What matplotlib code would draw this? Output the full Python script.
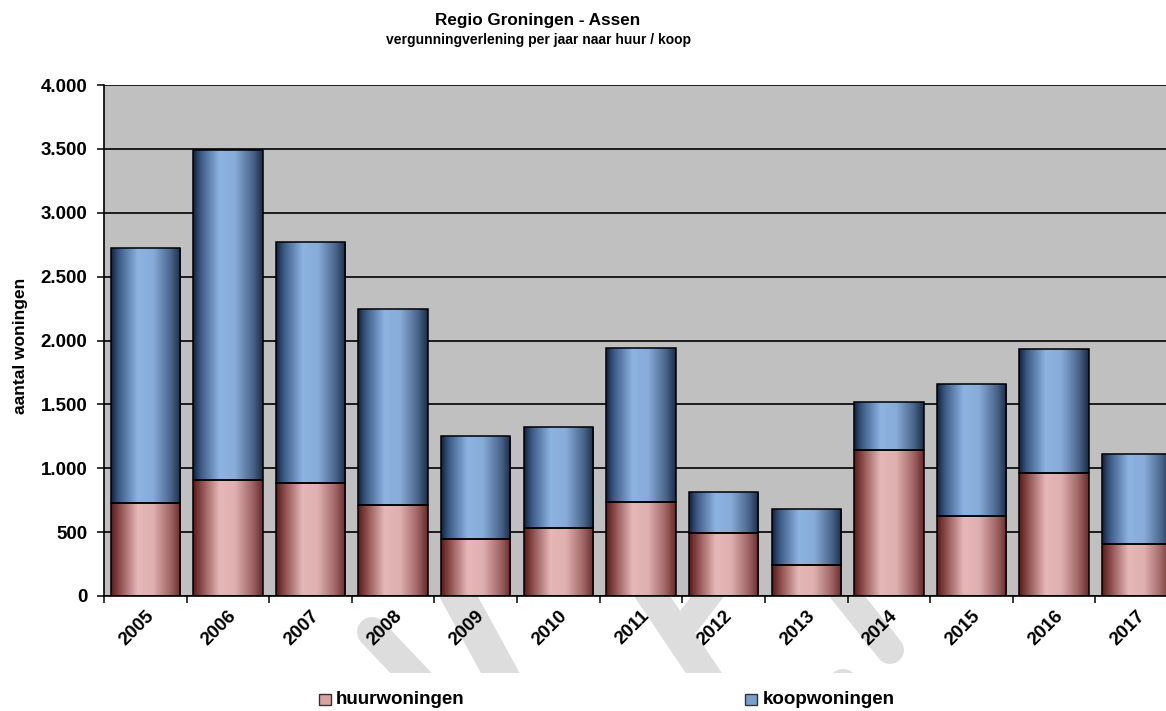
import numpy as np
import matplotlib
matplotlib.use('Agg')
import matplotlib.pyplot as plt
from matplotlib import font_manager
from matplotlib.colors import LinearSegmentedColormap
from matplotlib.lines import Line2D
from matplotlib.patches import Rectangle
from matplotlib.ticker import FuncFormatter, FixedLocator

# data
years = ['2005', '2006', '2007', '2008', '2009', '2010', '2011',
         '2012', '2013', '2014', '2015', '2016', '2017']
huur = [730, 906, 887, 714, 449, 536, 733, 497, 244, 1143, 625, 966, 410]
koop = [1992, 2584, 1884, 1530, 801, 785, 1209, 315, 440, 378, 1034, 968, 701]
series_names = ['huurwoningen', 'koopwoningen']

W, H = 1166, 711
installed = {f.name for f in font_manager.fontManager.ttflist}
narrow = 'Liberation Sans Narrow' if 'Liberation Sans Narrow' in installed else None
plt.rcParams['font.family'] = ['Liberation Sans', 'DejaVu Sans']

pink_cmap = LinearSegmentedColormap.from_list('pink', [
    (0.0, '#561b1b'), (0.1, '#844242'), (0.38, '#e6b7b7'),
    (0.6, '#e0b0b0'), (0.85, '#a06666'), (1.0, '#672a2a')])
blue_cmap = LinearSegmentedColormap.from_list('blue', [
    (0.0, '#13203a'), (0.1, '#385580'), (0.38, '#8db3e2'),
    (0.6, '#88acd8'), (0.85, '#4c678e'), (1.0, '#1c2c48')])

fig = plt.figure(figsize=(W / 100, H / 100), dpi=100)

# faint watermark strokes below the plot area
clip = Rectangle((0, 38 / H), 1, 76 / H, transform=fig.transFigure,
                 facecolor='none', edgecolor='none')
fig.add_artist(clip)
strokes = [((372, 632), (432, 695), 30), ((455, 590), (515, 700), 34),
           ((648, 590), (722, 700), 30), ((714, 588), (688, 622), 26),
           ((842, 590), (890, 650), 28), ((843, 684), (850, 700), 30)]
for (x0, y0), (x1, y1), lw in strokes:
    ln = Line2D([x0 / W, x1 / W], [1 - y0 / H, 1 - y1 / H],
                transform=fig.transFigure, color='#dddddd',
                lw=lw * 0.72, solid_capstyle='round', zorder=0)
    ln.set_clip_path(clip)
    fig.add_artist(ln)

ax = fig.add_axes([104 / W, 115 / H, 1074 / W, 511 / H])
ax.set_facecolor('#c0c0c0')

x = np.arange(len(years))
width = 0.84
grad = np.linspace(0, 1, 256).reshape(1, -1)


def gradient_bars(bars, cmap):
    for b in bars:
        bx, by = b.get_x(), b.get_y()
        bw, bh = b.get_width(), b.get_height()
        im = ax.imshow(grad, extent=[bx, bx + bw, by, by + bh], cmap=cmap,
                       aspect='auto', interpolation='bicubic', zorder=2)
        im.set_clip_path(b)


bars1 = ax.bar(x, huur, width, facecolor='none', edgecolor='black', lw=1.1, zorder=3)
bars2 = ax.bar(x, koop, width, bottom=huur, facecolor='none', edgecolor='black',
               lw=1.1, zorder=3)
gradient_bars(bars1, pink_cmap)
gradient_bars(bars2, blue_cmap)

ax.set_xlim(-0.5, len(years) - 0.5)
ax.set_ylim(0, 4000)
ax.set_yticks(np.arange(0, 4001, 500))
ax.yaxis.set_major_formatter(FuncFormatter(lambda v, p: f'{v:,.0f}'.replace(',', '.')))
ax.grid(axis='y', color='black', lw=1.2, zorder=1)
ax.set_axisbelow(True)

# ticks between categories, labels at the centres
ax.xaxis.set_major_locator(FixedLocator(np.arange(-0.5, len(years), 1.0)))
ax.xaxis.set_major_formatter(FuncFormatter(lambda v, p: ''))
ax.xaxis.set_minor_locator(FixedLocator(x))
ax.set_xticklabels(years, minor=True)
ax.tick_params(axis='x', which='major', length=5, width=1.1, direction='out')
ax.tick_params(axis='x', which='minor', length=0, pad=8)
ax.tick_params(axis='y', length=5, width=1.1, direction='out', pad=7)
for lab in ax.get_xticklabels(minor=True):
    lab.set_rotation(45)
    lab.set_ha('right')
    lab.set_va('top')
    lab.set_rotation_mode('anchor')
    lab.set_fontsize(13.5)
    lab.set_fontweight('bold')
for lab in ax.get_yticklabels():
    lab.set_fontsize(13.5)
    lab.set_fontweight('bold')

for s in ['top', 'right']:
    ax.spines[s].set_visible(False)
ax.spines['left'].set_linewidth(1.2)
ax.spines['bottom'].set_linewidth(1.2)

ax.set_ylabel('aantal woningen', fontsize=12.5, fontweight='bold')
ax.yaxis.set_label_coords(-0.071, 0.49)

fig.text(538 / W, 1 - 20 / H, 'Regio Groningen - Assen', ha='center', va='center',
         fontsize=12.3, fontweight='bold')
fig.text(538 / W, 1 - 40 / H, 'vergunningverlening per jaar naar huur / koop',
         ha='center', va='center', fontsize=10, fontweight='bold')

# legend drawn by hand
leg_font = dict(fontsize=16.5, fontweight='bold', family=[narrow, 'Liberation Sans']) \
    if narrow else dict(fontsize=13.5, fontweight='bold')
for (bx, tx), name, col in zip([(319, 336), (745, 763)], series_names,
                               ['#d9a3a3', '#7c9ecb']):
    fig.add_artist(Rectangle((bx / W, 1 - 705 / H), 12 / W, 11 / H,
                             transform=fig.transFigure, facecolor=col,
                             edgecolor='#333333', lw=1))
    fig.text(tx / W, 1 - 699 / H, name, ha='left', va='center', **leg_font)

fig.savefig('out.png', dpi=100)
